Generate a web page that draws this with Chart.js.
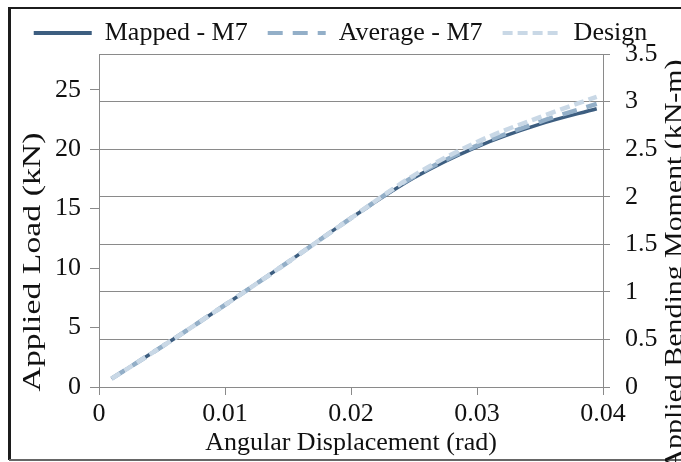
<!DOCTYPE html>
<html><head><meta charset="utf-8">
<script src="https://cdn.jsdelivr.net/npm/chart.js@4/dist/chart.umd.min.js"></script>
<style>html,body{margin:0;padding:0;background:#fff}#wrap{width:681px;height:462px;position:relative}</style>
</head><body><div id="wrap"><canvas id="c" width="681" height="462"></canvas></div>
<script>
// ---- data ----
const angle = [0.001, 0.005, 0.010, 0.015, 0.020, 0.025, 0.030, 0.035, 0.0395];
const mappedLoad  = [0.7, 3.4, 6.9, 10.5, 14.2, 17.6, 20.2, 22.1, 23.4];
const averageLoad = [0.7, 3.4, 6.9, 10.5, 14.2, 17.7, 20.3, 22.3, 23.8];
const designLoad  = [0.7, 3.4, 6.9, 10.5, 14.2, 17.8, 20.6, 22.7, 24.4];
const xTicks = [0, 0.01, 0.02, 0.03, 0.04];
const loadTicks = [0, 5, 10, 15, 20, 25];
const momentTicks = [0, 0.5, 1, 1.5, 2, 2.5, 3, 3.5];
const seriesNames = ['Mapped - M7', 'Average - M7', 'Design'];
const xTitle = 'Angular Displacement (rad)';
const yLeftTitle = 'Applied Load (kN)';
const yRightTitle = 'Applied Bending Moment (kN-m)';

const FONT = '"Liberation Serif", "Times New Roman", serif';
const GRID = '#8a8a8a';
const TXT = '#111111';
Chart.defaults.font.family = FONT;

function pts(ys) { return angle.map((a, i) => ({ x: a, y: ys[i] })); }

const legendHeight = {
  id: 'legendHeight',
  beforeInit(chart) {
    const orig = chart.legend.fit;
    chart.legend.fit = function () { orig.call(this); this.height = 54; };
  }
};

const deco = {
  id: 'deco',
  beforeDraw(chart) {
    const ctx = chart.ctx;
    ctx.save(); ctx.fillStyle = '#fff'; ctx.fillRect(0, 0, chart.width, chart.height); ctx.restore();
  },
  afterDraw(chart) {
    const ctx = chart.ctx;
    ctx.save();
    // outer frame
    ctx.strokeStyle = '#1c1c1c'; ctx.lineWidth = 3;
    ctx.beginPath(); ctx.moveTo(9.5, 7); ctx.lineTo(9.5, 460); ctx.stroke();
    ctx.lineWidth = 2;
    ctx.beginPath(); ctx.moveTo(9, 8); ctx.lineTo(681, 8); ctx.stroke();
    ctx.strokeStyle = '#666'; ctx.lineWidth = 2;
    ctx.beginPath(); ctx.moveTo(9, 460); ctx.lineTo(681, 460); ctx.stroke();
    // rotated titles
    ctx.fillStyle = TXT; ctx.font = '26px ' + FONT;
    ctx.textAlign = 'center'; ctx.textBaseline = 'middle';
    ctx.save(); ctx.translate(33, 262); ctx.rotate(-Math.PI / 2); ctx.scale(1.3, 1);
    ctx.fillText(yLeftTitle, 0, 0); ctx.restore();
    ctx.save(); ctx.translate(675, 265); ctx.rotate(-Math.PI / 2); ctx.scale(1.15, 1);
    ctx.fillText(yRightTitle, 0, 0); ctx.restore();
    ctx.restore();
  }
};

new Chart(document.getElementById('c'), {
  type: 'line',
  data: {
    datasets: [
      { label: seriesNames[0], data: pts(mappedLoad), yAxisID: 'y', borderColor: '#3d5e80', backgroundColor: '#3d5e80',
        borderWidth: 3.5, pointRadius: 0, pointStyle: 'line', cubicInterpolationMode: 'monotone', order: 3 },
      { label: seriesNames[1], data: pts(averageLoad), yAxisID: 'y', borderColor: '#93afc8', backgroundColor: '#93afc8',
        borderWidth: 4.5, borderDash: [15, 10], pointRadius: 0, pointStyle: 'line', cubicInterpolationMode: 'monotone', order: 2 },
      { label: seriesNames[2], data: pts(designLoad), yAxisID: 'y', borderColor: '#c9d8e6', backgroundColor: '#c9d8e6',
        borderWidth: 4.5, borderDash: [10, 5], pointRadius: 0, pointStyle: 'line', cubicInterpolationMode: 'monotone', order: 1 }
    ]
  },
  options: {
    responsive: false, animation: false, devicePixelRatio: 1,
    layout: { padding: 0 },
    plugins: {
      tooltip: { enabled: false },
      legend: {
        position: 'top',
        labels: {
          usePointStyle: true, pointStyleWidth: 58, boxHeight: 26, padding: 20,
          font: { family: FONT, size: 26 }, color: TXT,
          sort: (a, b) => a.datasetIndex - b.datasetIndex,
          generateLabels: chart => {
            const items = Chart.defaults.plugins.legend.labels.generateLabels(chart);
            items.forEach(it => {
              const ds = chart.data.datasets[it.datasetIndex];
              it.lineDash = ds.borderDash || [];
              it.lineWidth = 4;
              it.strokeStyle = ds.borderColor;
              it.fillStyle = ds.borderColor;
              it.pointStyle = 'line';
            });
            return items;
          }
        }
      }
    },
    scales: {
      x: {
        type: 'linear', min: 0, max: 0.04,
        afterBuildTicks: s => { s.ticks = xTicks.map(v => ({ value: v })); },
        afterFit: s => { s.height = 75; },
        ticks: { font: { family: FONT, size: 26 }, color: TXT, padding: 4, maxRotation: 0, callback: v => String(v) },
        grid: { drawOnChartArea: false, drawTicks: true, tickLength: 8, tickColor: GRID },
        border: { color: GRID, width: 1 },
        title: { display: true, text: xTitle, font: { family: FONT, size: 26 }, color: TXT, padding: { top: 0, bottom: 3 } }
      },
      y: {
        type: 'linear', position: 'left', min: 0, max: 28,
        afterBuildTicks: s => { s.ticks = loadTicks.map(v => ({ value: v })); },
        afterFit: s => { s.width = 99; },
        ticks: { font: { family: FONT, size: 26 }, color: TXT, padding: 9, callback: v => String(v) },
        grid: { drawOnChartArea: false, drawTicks: true, tickLength: 9, tickColor: GRID },
        border: { color: GRID, width: 1 }
      },
      y2: {
        type: 'linear', position: 'right', min: 0, max: 3.5,
        afterBuildTicks: s => { s.ticks = momentTicks.map(v => ({ value: v })); },
        afterFit: s => { s.width = 78; },
        ticks: { font: { family: FONT, size: 26 }, color: TXT, padding: 15, callback: v => String(v) },
        grid: { drawOnChartArea: true, color: GRID, lineWidth: 1, drawTicks: true, tickLength: 7, tickColor: GRID },
        border: { color: GRID, width: 1 }
      }
    }
  },
  plugins: [legendHeight, deco]
});
</script>
</body></html>
